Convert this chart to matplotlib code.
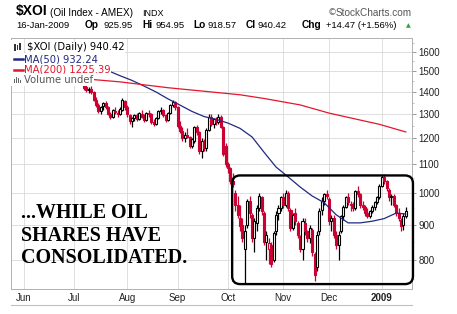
import numpy as np
import pandas as pd
import matplotlib
matplotlib.use('Agg')
import matplotlib.pyplot as plt
from matplotlib.patches import Rectangle, FancyBboxPatch

# ---------------- data ----------------
holidays = ['2008-05-26', '2008-07-04', '2008-09-01', '2008-11-27', '2008-12-25', '2009-01-01']
first_visible = '2008-07-08'

opens = [1445,1425,1410,1415,1400,1365,1340,1315,1335,1350,1330,1300,1290,1315,1305,1300,1320,1360,
         1330,1295,1270,1285,1295,1280,1300,1290,1275,1305,1300,1265,1260,1285,1315,1320,1295,1275,1305,1340,1355,
         1330,1250,1230,1200,1215,1205,1170,1190,1245,1225,1150,1190,1160,1235,1290,1260,1280,1265,1290,1245,1170,
         1100,1085,1040,1000,960,920,900,830,900,975,930,860,905,950,985,935,850,830,840,800,880,935,950,
         985,960,1000,945,890,935,905,865,830,905,880,860,885,815,780,880,945,975,995,
         980,910,920,870,840,880,925,955,985,960,965,950,1005,995,960,955,935,925,940,955,970,985,
         1025,1055,1040,1010,985,990,960,935,915,900,925.95]
highs = [1450,1440,1425,1430,1405,1375,1350,1335,1355,1360,1335,1310,1325,1330,1320,1330,1370,1365,
         1340,1300,1290,1300,1305,1310,1320,1300,1310,1320,1305,1280,1290,1320,1330,1325,1300,1310,1345,1365,1360,
         1335,1270,1245,1225,1240,1210,1200,1250,1255,1230,1200,1195,1240,1300,1300,1285,1290,1300,1295,1250,1180,
         1110,1090,1070,1010,990,960,920,900,980,990,935,920,960,1000,990,940,880,860,850,880,940,960,990,
         1000,1010,1005,950,935,950,910,870,920,920,885,900,890,820,880,950,985,1000,1010,
         985,930,930,880,880,930,960,990,1000,975,970,1010,1025,1000,975,960,950,945,960,975,990,1030,
         1060,1065,1045,1015,995,995,965,950,920,935,954.95]
lows = [1410,1400,1395,1390,1360,1330,1305,1300,1320,1325,1295,1280,1285,1300,1290,1295,1315,1320,
        1290,1260,1245,1270,1270,1275,1285,1265,1270,1290,1260,1250,1255,1280,1300,1290,1265,1270,1300,1330,1320,
        1240,1220,1190,1185,1200,1160,1160,1180,1215,1140,1125,1150,1150,1230,1250,1240,1255,1260,1240,1130,1090,
        1070,1030,1020,940,920,880,850,740,890,920,850,820,880,940,930,840,800,790,780,795,870,915,940,
        950,955,940,880,885,900,860,820,800,870,850,845,810,745,770,870,930,960,980,
        900,880,860,830,800,875,915,950,960,940,940,945,985,950,945,925,920,920,935,945,965,980,
        1020,1030,1005,975,960,955,925,910,880,885,918.57]
closes = [1420,1410,1415,1400,1365,1340,1315,1330,1350,1330,1300,1290,1320,1310,1300,1325,1365,1330,
          1300,1270,1285,1295,1280,1305,1290,1275,1305,1300,1265,1260,1285,1315,1320,1295,1275,1305,1340,1355,1330,
          1250,1230,1200,1215,1205,1170,1195,1245,1225,1150,1190,1160,1235,1290,1260,1280,1265,1290,1245,1140,1100,
          1085,1040,1030,960,930,895,860,880,975,935,860,910,950,990,940,850,870,845,790,875,930,950,985,
          960,1000,950,890,930,910,870,830,910,880,860,890,820,760,870,940,975,995,990,
          910,920,870,840,870,925,955,985,970,965,950,1005,995,960,955,935,925,940,955,970,985,1025,
          1055,1040,1015,985,990,960,935,920,895,925.95,940.42]

ma50_dates = ['2008-07-17','2008-07-22','2008-07-29','2008-08-05','2008-08-12','2008-08-19','2008-08-26',
              '2008-09-03','2008-09-10','2008-09-17','2008-09-24','2008-10-01','2008-10-08','2008-10-15',
              '2008-10-22','2008-10-29','2008-11-05','2008-11-12','2008-11-19','2008-11-26','2008-12-04',
              '2008-12-11','2008-12-18','2008-12-26','2009-01-05','2009-01-12','2009-01-16']
ma50_vals = [1515,1503,1478,1455,1428,1400,1368,1340,1312,1290,1278,1262,1240,1205,1145,1090,1055,1020,
             990,968,930,905,905,910,918,935,932.24]

ma200_dates = ['2008-07-09','2008-07-29','2008-08-26','2008-09-24','2008-10-08','2008-10-22','2008-11-12',
               '2008-12-01','2008-12-18','2008-12-31','2009-01-16']
ma200_vals = [1462,1448,1420,1398,1387,1370,1341,1305,1275,1257,1225.39]

month_labels = ['Jun', 'Jul', 'Aug', 'Sep', 'Oct', 'Nov', 'Dec', '2009']
y_ticks = [800, 900, 1000, 1100, 1200, 1300, 1400, 1500, 1600]

# ---------------- calendar ----------------
all_days = pd.bdate_range('2008-05-27', '2009-01-16')
trade_days = all_days[~all_days.isin(pd.to_datetime(holidays))]
pos = {d: i for i, d in enumerate(trade_days)}
def xi(d):
    return pos[pd.Timestamp(d)]

start = xi(first_visible)
n = len(closes)
xs = np.arange(start, start + n)

month_first = pd.Series(trade_days).groupby([trade_days.year, trade_days.month]).first()
month_pos = [pos[d] for d in month_first.values[1:]]  # Jun .. Jan
jun_x = month_pos[0]

# ---------------- figure ----------------
W, H = 457, 314
fig = plt.figure(figsize=(W / 100, H / 100), dpi=100)
fig.patch.set_facecolor('white')
def fx(x): return x / W
def fy(y): return 1 - y / H

ax = fig.add_axes([fx(11), fy(289), (412 - 11) / W, (289 - 38) / H])
ax.set_yscale('log')
ax.set_xlim(jun_x - 5.4, jun_x + 161.6)
ax.set_ylim(726, 1676)

red = '#cc0033'
for i in range(n):
    o, h, l, c = opens[i], highs[i], lows[i], closes[i]
    prev = closes[i - 1] if i > 0 else o
    col = 'black' if c >= prev else red
    ax.vlines(xs[i], l, h, color=col, lw=0.9, zorder=3)
    bot, top = min(o, c), max(o, c)
    if top - bot < 2:
        top = bot + 2
    face = 'white' if c > o else col
    ax.add_patch(Rectangle((xs[i] - 0.42, bot), 0.84, top - bot, facecolor=face,
                           edgecolor=col, lw=0.8, zorder=4))

ax.plot([xi(d) for d in ma50_dates], ma50_vals, color='#1f2a80', lw=0.9, zorder=5)
ax.plot([xi(d) for d in ma200_dates], ma200_vals, color='#e3172b', lw=0.9, zorder=5)

# grid / axes
ax.set_yticks(y_ticks)
ax.set_yticklabels([str(v) for v in y_ticks])
ax.yaxis.set_minor_locator(matplotlib.ticker.FixedLocator(np.arange(750, 1700, 50)))
ax.yaxis.set_minor_formatter(matplotlib.ticker.NullFormatter())
ax.yaxis.tick_right()
ax.tick_params(axis='y', which='major', length=3, width=0.6, color='#888888', labelsize=7,
               labelcolor='#222222', pad=1.5)
ax.tick_params(axis='y', which='minor', length=1.5, width=0.5, color='#aaaaaa')
ax.set_xticks(month_pos)
ax.set_xticklabels(month_labels)
ax.tick_params(axis='x', length=0, labelsize=7, labelcolor='#222222', pad=3)
for lab in ax.get_xticklabels():
    lab.set_fontfamily('Liberation Sans')
    if lab.get_text() == '2009':
        lab.set_fontweight('bold')
for lab in ax.get_yticklabels():
    lab.set_fontfamily('Liberation Sans')
ax.grid(True, which='major', color='#d9d9d9', lw=0.6, zorder=0)
ax.set_axisbelow(True)
for s in ax.spines.values():
    s.set_color('#b0b0b0')
    s.set_linewidth(0.7)

# bottom line of date strip
fig.add_artist(plt.Line2D([fx(11), fx(412)], [fy(304.5), fy(304.5)], color='#c0c0c0', lw=0.8))

# rounded box around consolidation
ax.figure.canvas.draw()
inv = ax.transAxes.inverted()
x0, y0 = inv.transform(ax.transData.transform((xi('2008-10-03') - 0.3, 738)))
x1, y1 = inv.transform(ax.transData.transform((jun_x + 162.0, 1060)))
Wpx, Hpx = 401, 251
box = FancyBboxPatch((x0, y0), x1 - x0, y1 - y0, boxstyle='round,pad=0,rounding_size=%f' % (8 / Wpx),
                     mutation_aspect=Wpx / Hpx, transform=ax.transAxes, facecolor='none',
                     edgecolor='black', lw=1.7, clip_on=False, zorder=6)
ax.add_patch(box)

# annotation text
for txt, yy in [('...WHILE OIL', 213), ('SHARES HAVE', 236), ('CONSOLIDATED.', 258)]:
    fig.text(fx(21), fy(yy), txt, family='Liberation Serif', weight='bold', fontsize=14.4,
             va='center', ha='left', color='black', zorder=10)

# legend inside plot
lf = dict(family='DejaVu Sans', fontsize=7.2, va='center', ha='left', zorder=10,
          bbox=dict(facecolor='white', edgecolor='none', pad=0.6))
fig.text(fx(27), fy(47.5), '$XOI (Daily) 940.42', color='black', **lf)
fig.text(fx(24), fy(59), 'MA(50) 932.24', color='#1f2a80', **lf)
fig.text(fx(24), fy(69.5), 'MA(200) 1225.39', color='#e3172b', **lf)
fig.text(fx(24), fy(80), 'Volume undef', color='#555555', **lf)
fig.add_artist(Rectangle((fx(11), fy(86)), fx(13), fy(40) - fy(86), facecolor='white',
                         edgecolor='none', zorder=9))
fig.add_artist(plt.Line2D([fx(14), fx(23)], [fy(59), fy(59)], color='#1f2a80', lw=1.8, zorder=11))
fig.add_artist(plt.Line2D([fx(14), fx(23)], [fy(69.5), fy(69.5)], color='#e3172b', lw=1.8, zorder=11))
# icons
for k, (a, b) in enumerate([(44, 51), (45, 50), (43, 50)]):
    fig.add_artist(Rectangle((fx(14 + 2.5 * k), fy(b)), fx(1.6), fy(a) - fy(b), facecolor='#333333',
                             edgecolor='none', zorder=11))
for k, hgt in enumerate([4, 6, 5, 3]):
    fig.add_artist(Rectangle((fx(14 + 2 * k), fy(83)), fx(1.4), fy(83 - hgt) - fy(83),
                             facecolor='#666666', edgecolor='none', zorder=11))

# header
hf = dict(family='Liberation Sans', va='baseline', ha='left', color='black')
fig.text(fx(16), fy(15.5), '$XOI', fontsize=10, weight='bold', **hf)
fig.text(fx(50), fy(15.5), '(Oil Index - AMEX)', fontsize=7.2, **hf)
fig.text(fx(142), fy(15.5), 'INDX', fontsize=6.5, **hf)
fig.text(fx(328), fy(15.5), '\u00a9', fontsize=6.5, color='#666666', family='DejaVu Sans', va='baseline', ha='left')
fig.text(fx(336), fy(15.5), 'StockCharts.com', fontsize=7.2, color='#555555', family='Liberation Sans',
         va='baseline', ha='left')
row = [(16, '16-Jan-2009', 'normal'), (85, 'Op', 'bold'), (103, '925.95', 'normal'),
       (142, 'Hi', 'bold'), (155, '954.95', 'normal'), (193, 'Lo', 'bold'), (207, '918.57', 'normal'),
       (246, 'Cl', 'bold'), (258, '940.42', 'normal'), (302, 'Chg', 'bold'),
       (326, '+14.47 (+1.56%)', 'normal')]
for xx, t, w in row:
    fig.text(fx(xx), fy(27.5), t, fontsize=7.3 if w == 'bold' else 6.8, weight=w, **hf)
fig.text(fx(406), fy(27.5), '\u25b2', fontsize=4.5, color='#2e9e3e', family='DejaVu Sans',
         va='baseline', ha='left')

fig.savefig('out.png', dpi=100, facecolor='white')
